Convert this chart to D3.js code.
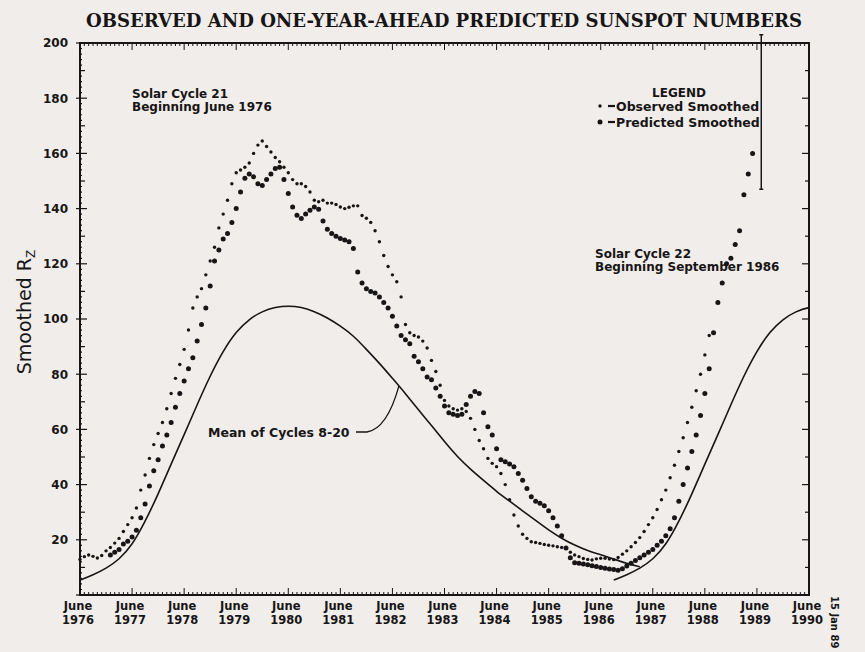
<!DOCTYPE html>
<html>
<head>
<meta charset="utf-8">
<script src="https://cdn.jsdelivr.net/npm/d3@7"></script>
<style>
  body { margin: 0; background: #f1edeb; }
  svg { display: block; }
</style>
</head>
<body>
<svg id="chart" width="865" height="652"></svg>
<script>
    // x runs in months from June 1976 (0) to June 1990 (168)
    var yearLabels = ["1976", "1977", "1978", "1979", "1980", "1981", "1982", "1983",
                      "1984", "1985", "1986", "1987", "1988", "1989", "1990"];
    var yTicks = [20, 40, 60, 80, 100, 120, 140, 160, 180, 200];

    // observed smoothed Rz, one value per month starting June 1976
    var observedStart = 0;
    var observed = [
      12.9, 13.9, 14.5, 14.0, 13.4, 14.3, 16.0, 17.2, 18.8, 20.5, 23.0, 25.5,
      28.0, 31.5, 38.0, 43.5, 49.5, 54.5, 58.5, 62.5, 67.5, 73.0, 78.5, 83.5,
      89.0, 96.0, 104.0, 108.0, 111.0, 116.0, 121.0, 126.0, 133.0, 138.0, 143.0, 149.0,
      153.0, 154.0, 155.0, 156.5, 160.0, 163.0, 164.5, 162.5, 160.5, 158.5, 157.0, 155.0,
      153.0, 150.5, 149.0, 149.0, 148.0, 146.0, 143.0, 142.5, 143.0, 142.0, 142.0, 141.5,
      140.6, 140.0, 140.5, 141.0, 141.0, 137.5, 136.5, 135.0, 132.0, 128.0, 123.0, 119.0,
      116.0, 113.5, 108.0, 98.0, 95.0, 94.0, 93.5, 92.0, 89.5, 85.0, 81.0, 76.0,
      70.5, 68.5, 67.5, 67.0, 67.5, 66.5, 64.0, 60.0, 56.0, 53.0, 49.5, 47.7,
      46.5, 44.0, 40.0, 34.5, 29.0, 25.0, 22.0, 20.5, 19.3, 19.0, 18.7, 18.3,
      18.0, 17.8, 17.5, 17.2, 16.9, 15.5, 14.5, 13.9, 13.2, 12.9, 12.7, 13.1,
      13.3, 13.3, 13.0, 12.8, 13.6, 14.8, 16.0, 17.5, 19.0, 20.8, 23.0, 25.5,
      28.0, 31.0, 34.5, 38.0, 42.5, 47.0, 52.0, 57.0, 62.5, 68.0, 74.0, 80.0,
      87.0, 94.0
    ];

    // one-year-ahead predicted smoothed Rz, monthly, starting January 1977
    var predictedStart = 7;
    var predicted = [
      14.5, 15.5, 16.5, 18.5, 19.5, 21.0, 23.5, 28.0, 33.0, 39.5, 45.0, 49.0,
      54.0, 58.0, 62.5, 68.0, 73.0, 77.5, 82.0, 86.0, 92.0, 98.0, 104.0, 112.0,
      121.0, 125.0, 129.0, 131.0, 135.0, 140.0, 146.0, 151.0, 152.5, 151.5, 149.0, 148.4,
      150.5, 152.5, 154.5, 155.0, 150.5, 145.5, 140.6, 137.6, 136.4, 138.0, 139.4, 140.6,
      139.8, 135.5, 132.5, 131.0, 130.0, 129.2, 128.6, 128.0, 125.5, 117.0, 113.0, 111.0,
      110.0, 109.4, 108.0, 106.0, 104.0, 101.0, 97.5, 94.0, 92.5, 91.0, 86.5, 84.5,
      82.0, 79.0, 78.0, 75.0, 72.0, 68.5, 66.0, 65.5, 65.0, 65.5, 69.0, 72.0,
      73.7, 73.0, 66.0, 61.0, 58.0, 53.0, 49.0, 48.3, 47.5, 46.5, 44.0, 41.6,
      38.6, 35.6, 34.0, 33.2, 32.3, 30.5, 28.0, 25.0, 21.5, 17.0, 13.5, 11.7,
      11.5, 11.2, 11.0, 10.6, 10.3, 10.0, 9.7, 9.4, 9.2, 9.0, 9.5, 10.5,
      11.5, 12.5, 13.5, 14.5, 15.5, 16.5, 18.0, 19.5, 21.5, 24.0, 28.0, 34.0,
      40.0, 46.0, 52.0, 58.0, 65.0, 73.0, 82.0, 95.0, 106.0, 113.0, 120.0, 122.0,
      127.0, 132.0, 145.0, 152.5, 160.0
    ];

    // mean of cycles 8-20, one value every 3 months from cycle start
    var meanStep = 3;
    var meanCycle = [
      5.4, 7.3, 9.6, 12.8, 18.0, 26.5, 36.5, 47.5, 58.0, 69.0, 79.5, 88.5,
      95.5, 100.0, 102.8, 104.3, 104.8, 104.3, 102.8, 100.5, 97.5, 94.0, 89.0, 84.0,
      78.5, 73.0, 67.0, 61.5, 55.5, 50.0, 45.5, 41.5, 37.5, 34.0, 30.5, 27.0,
      23.5, 20.5, 18.0, 16.0, 14.6, 13.0, 11.4, 10.2
    ];
    var cycleStarts = [0, 123];

    var errorBar = { month: 157, low: 147, high: 203 };

    var ink = "#171515";
    var sans = "DejaVu Sans, Verdana, sans-serif";

    var svg = d3.select("#chart");
    var x = d3.scaleLinear().domain([0, 168]).range([80, 809]);
    var y = d3.scaleLinear().domain([0, 200]).range([595, 43]);

    svg.append("defs").append("clipPath").attr("id", "plotClip")
      .append("rect")
      .attr("x", x(0)).attr("y", y(200))
      .attr("width", x(168) - x(0)).attr("height", y(0) - y(200));

    // title
    svg.append("text")
      .attr("x", 444).attr("y", 27)
      .attr("text-anchor", "middle")
      .attr("textLength", 716)
      .attr("lengthAdjust", "spacingAndGlyphs")
      .style("font-family", "DejaVu Serif Condensed, DejaVu Serif, serif")
      .style("font-weight", "bold")
      .style("font-size", "19px")
      .style("fill", ink)
      .text("OBSERVED AND ONE-YEAR-AHEAD PREDICTED SUNSPOT NUMBERS");

    // frame
    svg.append("rect")
      .attr("x", x(0)).attr("y", y(200))
      .attr("width", x(168) - x(0)).attr("height", y(0) - y(200))
      .style("fill", "none").style("stroke", ink).style("stroke-width", 2);

    // monthly ticks on top and bottom
    var months = d3.range(0, 169);
    svg.append("g").selectAll("line.bt").data(months).enter().append("line")
      .attr("x1", function (d) { return x(d); }).attr("x2", function (d) { return x(d); })
      .attr("y1", y(0)).attr("y2", function (d) { return y(0) - (d % 12 === 0 ? 7 : 3); })
      .style("stroke", ink).style("stroke-width", 1);
    svg.append("g").selectAll("line.tt").data(months).enter().append("line")
      .attr("x1", function (d) { return x(d); }).attr("x2", function (d) { return x(d); })
      .attr("y1", y(200)).attr("y2", function (d) { return y(200) + (d % 12 === 0 ? 7 : 3); })
      .style("stroke", ink).style("stroke-width", 1);

    // left / right ticks
    var yMinor = d3.range(0, 201, 2);
    svg.append("g").selectAll("line").data(yMinor).enter().append("line")
      .attr("y1", function (d) { return y(d); }).attr("y2", function (d) { return y(d); })
      .attr("x1", function (d) { return d % 20 === 0 ? x(0) - 4 : x(0); })
      .attr("x2", function (d) { return x(0) + (d % 20 === 0 ? 7 : d % 10 === 0 ? 5 : 2); })
      .style("stroke", ink).style("stroke-width", 1.2);
    svg.append("g").selectAll("line").data(d3.range(0, 201, 10)).enter().append("line")
      .attr("y1", function (d) { return y(d); }).attr("y2", function (d) { return y(d); })
      .attr("x1", x(168)).attr("x2", function (d) { return x(168) - (d % 20 === 0 ? 7 : 4); })
      .style("stroke", ink).style("stroke-width", 1.2);

    // y labels
    svg.append("g").selectAll("text").data(yTicks).enter().append("text")
      .attr("x", 68).attr("y", function (d) { return y(d); })
      .attr("dy", "0.36em")
      .attr("text-anchor", "end")
      .style("font-family", sans).style("font-weight", "bold").style("font-size", "12px")
      .style("fill", ink)
      .text(function (d) { return d; });

    // x labels: "June" above the year
    var xg = svg.append("g")
      .style("font-family", sans).style("font-weight", "bold").style("font-size", "11.5px")
      .style("fill", ink);
    xg.selectAll("text.m").data(yearLabels).enter().append("text")
      .attr("text-anchor", "middle")
      .attr("x", function (d, i) { return x(i * 12) - 2; }).attr("y", 610)
      .text("June");
    xg.selectAll("text.yr").data(yearLabels).enter().append("text")
      .attr("text-anchor", "middle")
      .attr("x", function (d, i) { return x(i * 12) - 2; }).attr("y", 623.5)
      .text(function (d) { return d; });

    // y axis title
    var yt = svg.append("text")
      .attr("transform", "translate(31,312) rotate(-90)")
      .attr("text-anchor", "middle")
      .style("font-family", sans).style("font-size", "19px")
      .style("fill", ink);
    yt.append("tspan").text("Smoothed R");
    yt.append("tspan").attr("dy", 4).style("font-size", "12px").text("Z");

    // mean of cycles 8-20, drawn once per cycle
    var meanLine = d3.line()
      .x(function (d, i) { return x(d.start + i * meanStep); })
      .y(function (d) { return y(d.v); })
      .curve(d3.curveBasis);
    var plot = svg.append("g").attr("clip-path", "url(#plotClip)");
    cycleStarts.forEach(function (s) {
      var pts = meanCycle.map(function (v) { return { start: s, v: v }; });
      plot.append("path")
        .attr("d", meanLine(pts))
        .style("fill", "none").style("stroke", ink).style("stroke-width", 1.6);
    });

    // observed (small dots) and predicted (large dots)
    svg.append("g").selectAll("circle").data(observed).enter().append("circle")
      .attr("cx", function (d, i) { return x(observedStart + i); })
      .attr("cy", function (d) { return y(d); })
      .attr("r", 1.7).style("fill", ink);
    svg.append("g").selectAll("circle").data(predicted).enter().append("circle")
      .attr("cx", function (d, i) { return x(predictedStart + i); })
      .attr("cy", function (d) { return y(d); })
      .attr("r", 2.5).style("fill", ink);

    // error bar on the last prediction
    svg.append("line")
      .attr("x1", x(errorBar.month)).attr("x2", x(errorBar.month))
      .attr("y1", y(errorBar.high)).attr("y2", y(errorBar.low))
      .style("stroke", ink).style("stroke-width", 1.5);
    [errorBar.high, errorBar.low].forEach(function (v) {
      svg.append("line")
        .attr("x1", x(errorBar.month) - 2).attr("x2", x(errorBar.month) + 2)
        .attr("y1", y(v)).attr("y2", y(v))
        .style("stroke", ink).style("stroke-width", 1.5);
    });

    // annotations
    function label(lines, px, py, lh) {
      var t = svg.append("text")
        .style("font-family", sans).style("font-weight", "bold").style("font-size", "12px")
        .style("fill", ink);
      lines.forEach(function (s, i) {
        t.append("tspan").attr("x", px).attr("y", py + i * lh).text(s);
      });
      return t;
    }
    label(["Solar Cycle 21", "Beginning June 1976"], 132, 98, 13);
    label(["Solar Cycle 22", "Beginning September 1986"], 595, 258, 12.5);
    label(["Mean of Cycles 8-20"], 208, 437, 0).style("font-size", "12.5px");

    // leader from the label to the mean curve
    function meanAt(m) {
      var k = m / meanStep, i = Math.floor(k), f = k - i;
      return meanCycle[i] * (1 - f) + meanCycle[i + 1] * f;
    }
    var tx = x(73.5), ty = y(meanAt(73.5));
    svg.append("path")
      .attr("d", "M356,432 L367,432 Q387,429 " + tx + "," + ty)
      .style("fill", "none").style("stroke", ink).style("stroke-width", 1.3);

    // legend
    svg.append("text")
      .attr("x", 679).attr("y", 97).attr("text-anchor", "middle")
      .style("font-family", sans).style("font-weight", "bold").style("font-size", "12px")
      .style("fill", ink).text("LEGEND");
    var legendRows = [
      { name: "Observed Smoothed", r: 1.7, y: 106 },
      { name: "Predicted Smoothed", r: 2.5, y: 122 }
    ];
    legendRows.forEach(function (d) {
      svg.append("circle").attr("cx", 600).attr("cy", d.y).attr("r", d.r).style("fill", ink);
      svg.append("line").attr("x1", 608).attr("x2", 615).attr("y1", d.y).attr("y2", d.y)
        .style("stroke", ink).style("stroke-width", 2.2);
      svg.append("text").attr("x", 616).attr("y", d.y + 4.5)
        .style("font-family", sans).style("font-weight", "bold").style("font-size", "12.5px")
        .style("fill", ink).text(d.name);
    });

    // date stamp at the page edge
    svg.append("text")
      .attr("transform", "translate(831,596) rotate(90)")
      .style("font-family", sans).style("font-weight", "bold").style("font-size", "10px")
      .style("fill", ink).text("15 Jan 89");
</script>
</body>
</html>
